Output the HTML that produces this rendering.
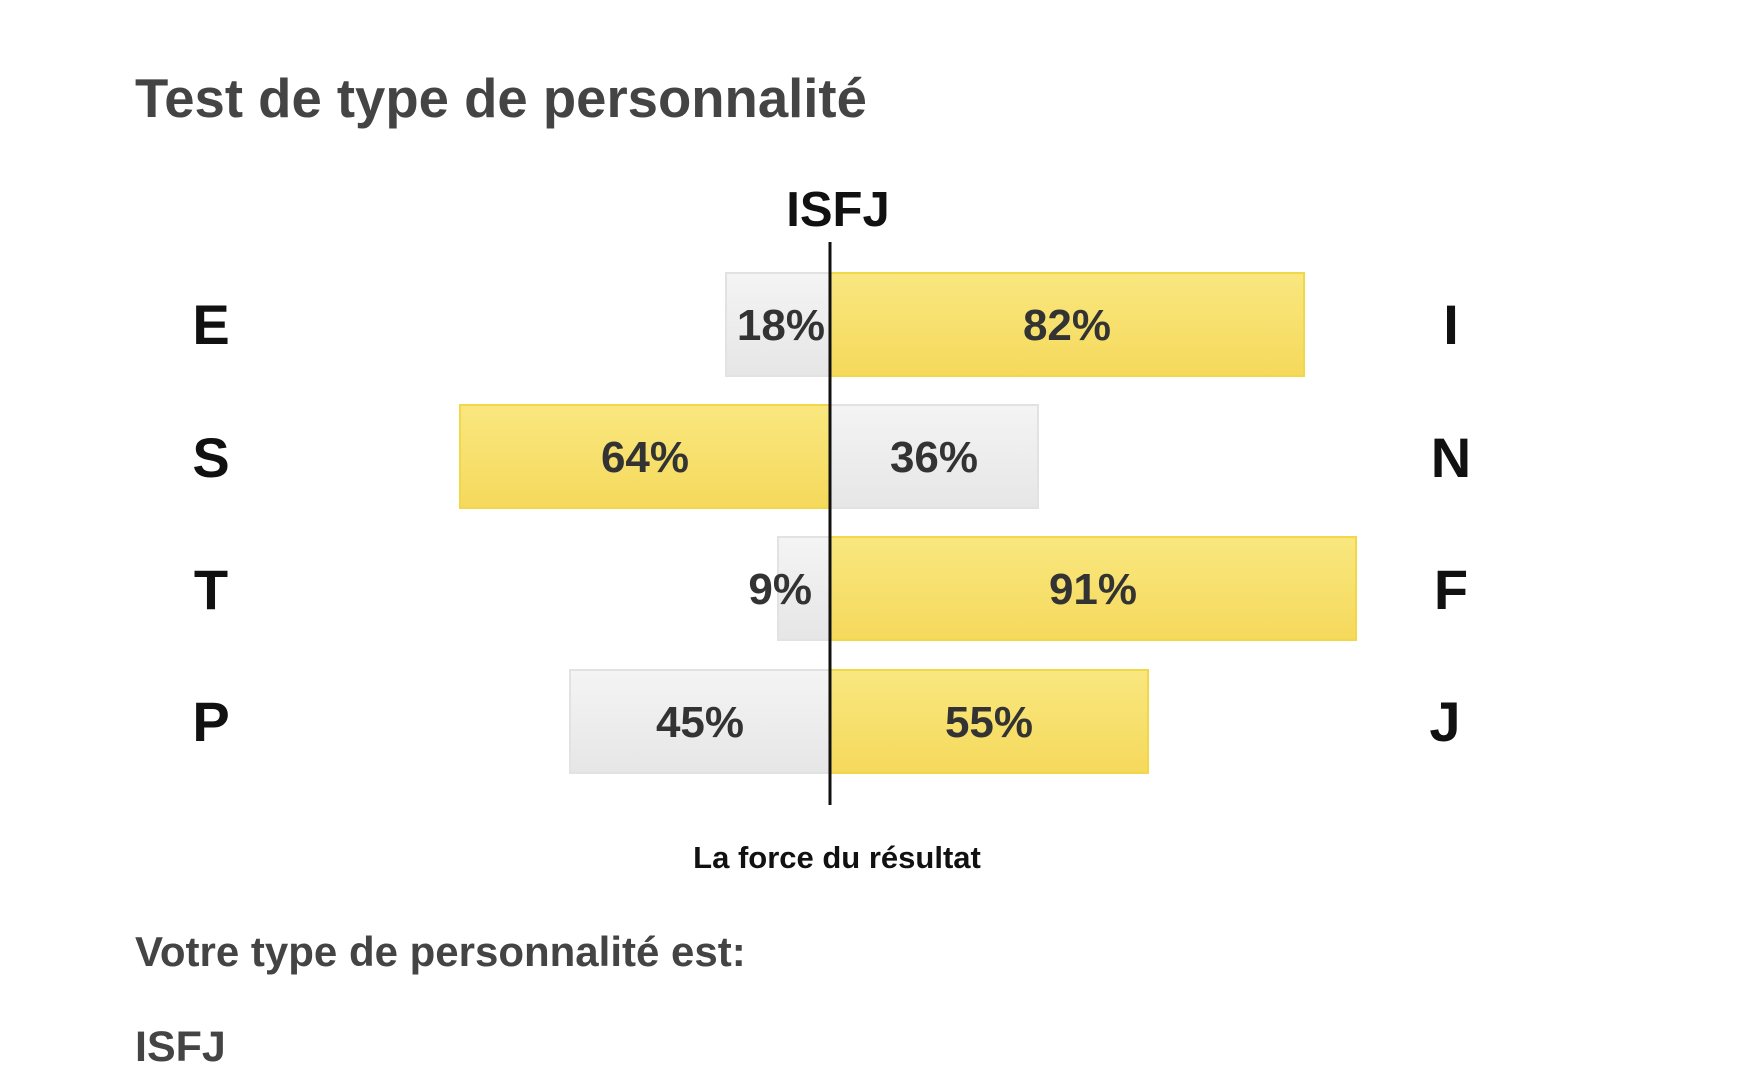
<!DOCTYPE html>
<html><head><meta charset="utf-8"><style>
html,body{margin:0;padding:0;background:#fff;width:1750px;height:1083px;overflow:hidden}
svg{display:block}
</style></head><body>
<svg width="1750" height="1083" xmlns="http://www.w3.org/2000/svg" font-family="Liberation Sans, sans-serif" font-weight="bold">
<defs>
<linearGradient id="y" x1="0" y1="0" x2="0" y2="1"><stop offset="0" stop-color="#f9e77f"/><stop offset="1" stop-color="#f5d95c"/></linearGradient>
<linearGradient id="g" x1="0" y1="0" x2="0" y2="1"><stop offset="0" stop-color="#f4f4f4"/><stop offset="1" stop-color="#e6e6e6"/></linearGradient>
</defs>
<text x="135" y="117" font-size="54.5" fill="#444">Test de type de personnalité</text>
<text x="838" y="226" font-size="49" fill="#111" text-anchor="middle">ISFJ</text>
<g transform="translate(-5,0)">
<rect x="731" y="273" width="104" height="103" fill="url(#g)" stroke="#e2e2e2" stroke-width="2"/>
<rect x="835" y="273" width="474" height="103" fill="url(#y)" stroke="#f0d84a" stroke-width="2"/>
<rect x="465" y="405" width="370" height="103" fill="url(#y)" stroke="#f0d84a" stroke-width="2"/>
<rect x="835" y="405" width="208" height="103" fill="url(#g)" stroke="#e2e2e2" stroke-width="2"/>
<rect x="783" y="537" width="52" height="103" fill="url(#g)" stroke="#e2e2e2" stroke-width="2"/>
<rect x="835" y="537" width="526" height="103" fill="url(#y)" stroke="#f0d84a" stroke-width="2"/>
<rect x="575" y="670" width="260" height="103" fill="url(#g)" stroke="#e2e2e2" stroke-width="2"/>
<rect x="835" y="670" width="318" height="103" fill="url(#y)" stroke="#f0d84a" stroke-width="2"/>
<line x1="835" y1="242" x2="835" y2="805" stroke="#111" stroke-width="3"/>
<g font-size="44" fill="#333">
<text x="830" y="340" text-anchor="end">18%</text>
<text x="1072" y="340" text-anchor="middle">82%</text>
<text x="650" y="472" text-anchor="middle">64%</text>
<text x="939" y="472" text-anchor="middle">36%</text>
<text x="817" y="604" text-anchor="end">9%</text>
<text x="1098" y="604" text-anchor="middle">91%</text>
<text x="705" y="737" text-anchor="middle">45%</text>
<text x="994" y="737" text-anchor="middle">55%</text>
</g>
</g>
<g font-size="56" fill="#111" text-anchor="middle">
<text x="211" y="344">E</text><text x="1451" y="344">I</text>
<text x="211" y="477">S</text><text x="1451" y="477">N</text>
<text x="211" y="609">T</text><text x="1451" y="609">F</text>
<text x="211" y="741">P</text><text x="1445" y="741">J</text>
</g>
<text x="837" y="868" font-size="31" fill="#111" text-anchor="middle">La force du résultat</text>
<text x="135" y="966" font-size="42" fill="#444">Votre type de personnalité est:</text>
<text x="135" y="1061" font-size="43" fill="#444">ISFJ</text>
</svg>
</body></html>
